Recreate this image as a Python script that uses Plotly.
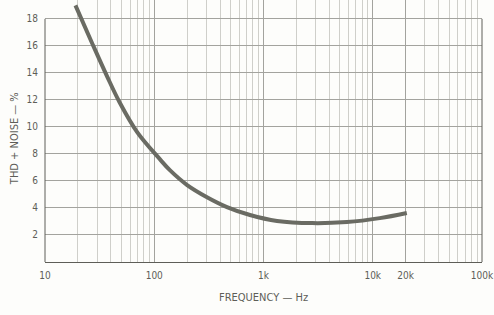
import plotly.graph_objects as go

# Data
freq_hz = [19, 27, 37, 48, 70, 113, 139, 200, 304, 463, 752, 1330, 2800, 5800, 11600, 20500]
thd_pct = [19.0, 16.2, 13.75, 11.85, 9.6, 7.6, 6.8, 5.7, 4.8, 4.07, 3.48, 3.04, 2.88, 2.96, 3.25, 3.63]

y_tick_vals = [2, 4, 6, 8, 10, 12, 14, 16, 18]
y_tick_text = ["2", "4", "6", "8", "10", "12", "14", "16", "18"]
x_tick_vals = [10, 100, 1000, 10000, 20000, 100000]
x_tick_text = ["10", "100", "1k", "10k", "20k", "100k"]

ink = "#5e5e58"
grid = "#a3a39e"
font_fam = "Liberation Sans Narrow, Arial Narrow, DejaVu Sans Condensed, sans-serif"

fig = go.Figure()
fig.add_trace(go.Scatter(
    x=freq_hz, y=thd_pct, mode="lines",
    line=dict(color="#6a6b63", width=4, shape="spline", smoothing=1.0),
    hoverinfo="skip", showlegend=False,
))

fig.update_layout(
    width=494, height=315,
    margin=dict(l=45, r=12, t=0, b=53),
    paper_bgcolor="#fdfdfb", plot_bgcolor="#fdfdfb",
    font=dict(family=font_fam, color=ink, size=10),
    xaxis=dict(
        type="log", range=[1, 5],
        tickvals=x_tick_vals, ticktext=x_tick_text,
        showgrid=True, gridcolor=grid, gridwidth=1,
        minor=dict(showgrid=True, gridcolor="#cfcfca", gridwidth=1, dtick="D1"),
        showline=True, linecolor=ink, linewidth=1,
        ticks="", ticklen=0, zeroline=False,
        ticklabelstandoff=4,
        tickfont=dict(size=10, color=ink),
    ),
    yaxis=dict(
        range=[0, 19.4],
        tickvals=y_tick_vals, ticktext=y_tick_text,
        showgrid=True, gridcolor=grid, gridwidth=1,
        showline=False, zeroline=False, ticks="",
        ticklabelstandoff=6,
        tickfont=dict(size=10, color=ink),
    ),
)

# Left and right frame lines (0..18)
fig.add_shape(type="line", xref="paper", yref="y", x0=0, x1=0, y0=0, y1=18,
              line=dict(color=ink, width=1))
fig.add_shape(type="line", xref="paper", yref="y", x0=1, x1=1, y0=0, y1=18,
              line=dict(color=ink, width=1))

# Axis titles
fig.add_annotation(text="THD + NOISE — %", xref="paper", yref="paper",
                   x=-0.068, y=0.47, textangle=-90, showarrow=False,
                   xanchor="center", yanchor="middle",
                   font=dict(size=11, color=ink, family=font_fam))
fig.add_annotation(text="FREQUENCY — Hz", xref="paper", yref="paper",
                   x=0.5, y=-0.135, showarrow=False,
                   xanchor="center", yanchor="middle",
                   font=dict(size=11, color=ink, family=font_fam))

fig.write_html("out.html")
